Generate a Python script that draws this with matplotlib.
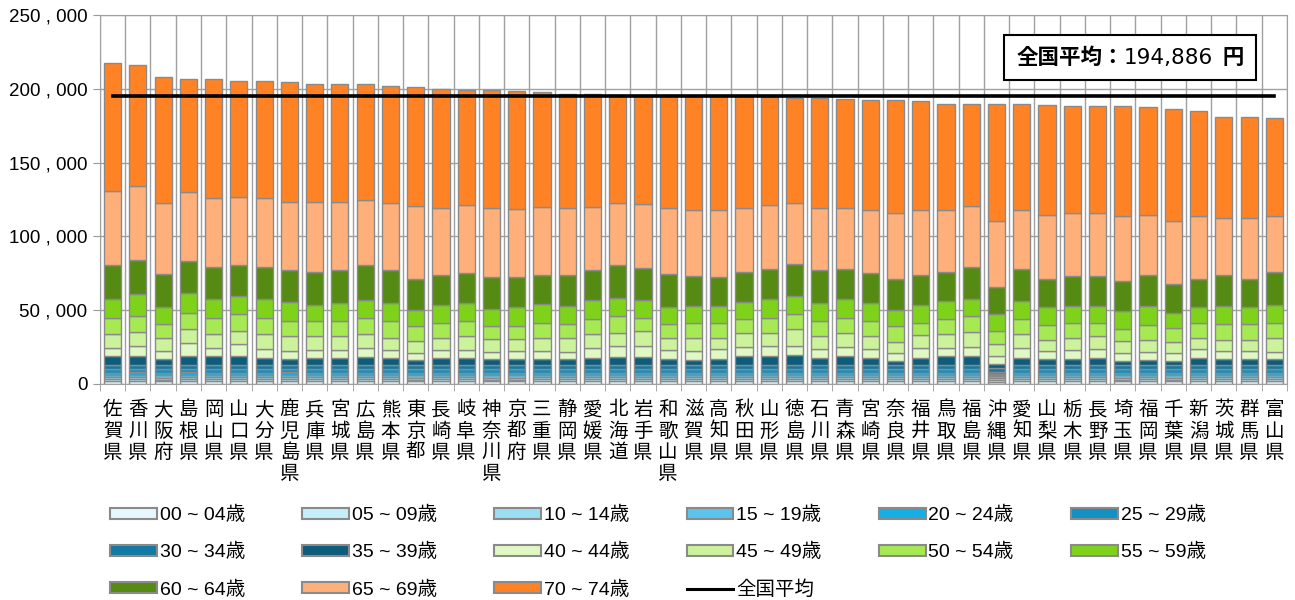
import matplotlib
matplotlib.use("Agg")
import matplotlib.pyplot as plt
from matplotlib.patches import Patch
from matplotlib.lines import Line2D
from matplotlib.offsetbox import TextArea, HPacker, AnchoredOffsetbox
import numpy as np

prefectures = ["佐賀県", "香川県", "大阪府", "島根県", "岡山県", "山口県", "大分県", "鹿児島県",
               "兵庫県", "宮城県", "広島県", "熊本県", "東京都", "長崎県", "岐阜県", "神奈川県",
               "京都府", "三重県", "静岡県", "愛媛県", "北海道", "岩手県", "和歌山県", "滋賀県",
               "高知県", "秋田県", "山形県", "徳島県", "石川県", "青森県", "宮崎県", "奈良県",
               "福井県", "鳥取県", "福島県", "沖縄県", "愛知県", "山梨県", "栃木県", "長野県",
               "埼玉県", "福岡県", "千葉県", "新潟県", "茨城県", "群馬県", "富山県"]

age_labels = ["00 ~ 04歳", "05 ~ 09歳", "10 ~ 14歳", "15 ~ 19歳", "20 ~ 24歳", "25 ~ 29歳",
              "30 ~ 34歳", "35 ~ 39歳", "40 ~ 44歳", "45 ~ 49歳", "50 ~ 54歳", "55 ~ 59歳",
              "60 ~ 64歳", "65 ~ 69歳", "70 ~ 74歳"]

age_00_04 = [1800, 1900, 1700, 1900, 1800, 1800, 1800, 1900, 1800, 1800, 1800, 1800, 1700, 1800, 1800, 1700,
             1700, 1800, 1800, 1800, 1800, 1800, 1800, 1800, 1800, 1800, 1800, 1800, 1800, 1800, 1800, 1800,
             1800, 1800, 1800, 1500, 1800, 1800, 1800, 1800, 1700, 1800, 1700, 1800, 1800, 1800, 1800]
age_05_09 = [1300, 1300, 1300, 1400, 1300, 1300, 1300, 1300, 1300, 1300, 1300, 1300, 1300, 1300, 1300, 1300,
             1300, 1300, 1300, 1300, 1300, 1300, 1300, 1300, 1300, 1300, 1300, 1300, 1300, 1300, 1300, 1300,
             1300, 1300, 1300, 1100, 1300, 1300, 1300, 1300, 1300, 1300, 1300, 1300, 1300, 1300, 1300]
age_10_14 = [1400, 1400, 1400, 1500, 1400, 1400, 1400, 1400, 1400, 1400, 1400, 1400, 1400, 1400, 1400, 1400,
             1400, 1400, 1400, 1400, 1400, 1400, 1400, 1400, 1400, 1400, 1400, 1400, 1400, 1400, 1400, 1400,
             1400, 1400, 1400, 1200, 1400, 1400, 1400, 1400, 1400, 1400, 1400, 1400, 1400, 1400, 1400]
age_15_19 = [1600, 1600, 1600, 1600, 1600, 1600, 1600, 1600, 1600, 1600, 1600, 1600, 1600, 1600, 1600, 1600,
             1600, 1600, 1600, 1600, 1600, 1600, 1600, 1600, 1600, 1600, 1600, 1600, 1600, 1600, 1600, 1600,
             1600, 1600, 1600, 1400, 1600, 1600, 1600, 1600, 1600, 1600, 1600, 1600, 1600, 1600, 1600]
age_20_24 = [1600, 1600, 1600, 1700, 1600, 1600, 1600, 1600, 1600, 1600, 1600, 1600, 1700, 1600, 1600, 1700,
             1600, 1600, 1600, 1600, 1600, 1600, 1600, 1600, 1600, 1600, 1600, 1600, 1600, 1600, 1600, 1600,
             1600, 1600, 1600, 1300, 1600, 1600, 1600, 1600, 1700, 1600, 1700, 1600, 1600, 1600, 1600]
age_25_29 = [2300, 2200, 2300, 2200, 2300, 2300, 2300, 2200, 2300, 2300, 2300, 2300, 2300, 2300, 2300, 2300,
             2300, 2300, 2300, 2300, 2300, 2300, 2300, 2300, 2300, 2300, 2300, 2300, 2300, 2300, 2300, 2300,
             2300, 2300, 2300, 1900, 2300, 2300, 2300, 2300, 2300, 2300, 2300, 2300, 2300, 2300, 2300]
age_30_34 = [3000, 3000, 3100, 2700, 3000, 3000, 3000, 3000, 3000, 3000, 3000, 3000, 3000, 3000, 3000, 3000,
             3100, 3000, 3000, 3000, 3000, 3000, 3000, 3000, 3000, 3000, 3000, 3000, 3000, 3000, 3000, 3000,
             3000, 3000, 3000, 2600, 3000, 3000, 3000, 3000, 3000, 3000, 3000, 3000, 3000, 3000, 3000]
age_35_39 = [6100, 6000, 3600, 6000, 6000, 6000, 4800, 3600, 4300, 4300, 5000, 4300, 3000, 4300, 4300, 3600,
             4000, 4000, 3600, 4800, 5500, 5500, 4000, 3400, 4000, 6000, 6000, 6600, 4500, 6000, 4500, 2500,
             4500, 6000, 6000, 2500, 4800, 3600, 3600, 4800, 2500, 3400, 2500, 4500, 3600, 4000, 3600]
age_40_44 = [5400, 6700, 5700, 8900, 5600, 7800, 5600, 5700, 5700, 5700, 6600, 5700, 5200, 5700, 5700, 5400,
             5300, 5300, 5200, 6800, 7200, 7200, 6000, 5900, 6400, 6200, 6700, 6100, 5900, 6200, 5900, 5700,
             7100, 5100, 6200, 5600, 6300, 5700, 6400, 5600, 5700, 5600, 5700, 5900, 5900, 5500, 5400]
age_45_49 = [9100, 9200, 9000, 9100, 9000, 9000, 10200, 10100, 9400, 9400, 9000, 8300, 7800, 8300, 9400, 8200,
             7900, 9000, 9500, 9000, 9000, 10100, 8300, 8700, 7900, 9500, 9000, 11300, 9200, 9500, 9200, 7400,
             8500, 9500, 9700, 7900, 9500, 7400, 8300, 9000, 7800, 7700, 7400, 7600, 7200, 7200, 9300]
age_50_54 = [11200, 11300, 9200, 11200, 11200, 11500, 11200, 10200, 10200, 10200, 10800, 11300, 10200, 10100, 10200, 9000,
             9400, 10100, 9400, 10300, 11200, 9000, 9400, 10400, 10100, 9000, 10100, 10300, 10000, 10100, 10200, 10600,
             8300, 10100, 11300, 9000, 10100, 10200, 10100, 9000, 8600, 10600, 9400, 10600, 10800, 10800, 10100]
age_55_59 = [12600, 14600, 11500, 13500, 12600, 12200, 12600, 13000, 11200, 12400, 12800, 12400, 11200, 12400, 12400, 11800,
             12600, 12600, 12000, 12900, 12400, 12400, 11500, 11300, 11300, 11900, 12600, 12200, 12600, 12600, 12400, 11200,
             12400, 12400, 11200, 11300, 12400, 12300, 11300, 11300, 11900, 12400, 10400, 10600, 12200, 11700, 12400]
age_60_64 = [23000, 23000, 22300, 21600, 21900, 20900, 21900, 21400, 22100, 22000, 23200, 22000, 21000, 19900, 20500, 21500,
             20300, 19700, 21400, 20200, 22100, 21600, 22100, 20500, 19800, 20300, 20800, 21600, 21800, 20300, 20300, 21000,
             19900, 19800, 21900, 18500, 21600, 19200, 20300, 20500, 20100, 21400, 19600, 19200, 21000, 19200, 22100]
age_65_69 = [50200, 50200, 48400, 47100, 46600, 46600, 46600, 46600, 47700, 46600, 44600, 45500, 48900, 45300, 45800, 46500,
             46200, 46100, 45200, 43200, 42400, 43200, 45000, 44400, 45100, 43400, 43400, 41400, 42000, 41300, 42500, 44400,
             44300, 42100, 41000, 44600, 39900, 43200, 42800, 42600, 43900, 40500, 42100, 42100, 38700, 41000, 37600]
age_70_74 = [86600, 82100, 85200, 76400, 80900, 78600, 79700, 80900, 79800, 79800, 78400, 79500, 80600, 80800, 78000, 80000,
             80100, 78200, 77500, 76400, 73200, 74000, 76200, 77600, 77400, 75500, 73000, 71500, 74600, 74400, 74600, 76600,
             73400, 72000, 69500, 79400, 72000, 74200, 72800, 72600, 74700, 72800, 76100, 71700, 68400, 68200, 66900]

national_average = 194886

series = [age_00_04, age_05_09, age_10_14, age_15_19, age_20_24, age_25_29, age_30_34, age_35_39,
          age_40_44, age_45_49, age_50_54, age_55_59, age_60_64, age_65_69, age_70_74]

colors = ["#E6F7FD", "#C6EDFA", "#9CDDF4", "#5CC4EC", "#16AFE4", "#1590C2", "#127AA4", "#0C5D7B",
          "#E0F8C3", "#CCF29B", "#A7E952", "#7ED31A", "#558B13", "#FFB07A", "#FF8224"]

jp_font = ["Liberation Sans", "Noto Sans CJK JP"]
cjk_font = ["Noto Sans CJK JP", "Liberation Sans"]

fig = plt.figure(figsize=(12.95, 6.0), dpi=100)
ax = fig.add_axes([0.0772, 0.36, 0.9166, 0.615])

x = np.arange(len(prefectures))
bottom = np.zeros(len(prefectures))
handles = []
for vals, col, lab in zip(series, colors, age_labels):
    v = np.array(vals, dtype=float)
    ax.bar(x, v, bottom=bottom, width=0.68, color=col, edgecolor="#8a8a8a", linewidth=1.0, zorder=3)
    bottom += v
    handles.append(Patch(facecolor=col, edgecolor="#8a8a8a", linewidth=1.5, label=lab))

ax.plot([x[0], x[-1]], [national_average, national_average], color="black", lw=2.6, zorder=5)
handles.append(Line2D([0], [0], color="black", lw=2.2, label="全国平均"))

ax.set_xlim(-0.5, len(prefectures) - 0.5)
ax.set_ylim(0, 250000)
ax.set_yticks(np.arange(0, 250001, 50000))
ax.set_yticklabels([f"{int(v):,}".replace(",", " , ") for v in np.arange(0, 250001, 50000)],
                   fontsize=13.5, family=jp_font)
ax.set_xticks(x)
ax.set_xticklabels(["\n".join(p) for p in prefectures], fontsize=14, family=cjk_font,
                   linespacing=1.02, va="top")
ax.set_xticks(np.arange(-0.5, len(prefectures), 1.0), minor=True)
ax.tick_params(axis="x", which="major", length=0, pad=11)
ax.tick_params(axis="x", which="minor", length=5, color="#999999")
ax.tick_params(axis="y", length=5, color="#999999", pad=4)
ax.grid(axis="x", which="minor", color="#a0a0a0", lw=1.0, zorder=0)
ax.grid(axis="y", which="major", color="#a0a0a0", lw=1.0, zorder=0)
for s in ax.spines.values():
    s.set_color("#a0a0a0")

# annotation box
t1 = TextArea("全国平均：", textprops=dict(fontsize=15.5, fontweight="bold", family=cjk_font))
t2 = TextArea("194,886", textprops=dict(fontsize=15.5, family=["DejaVu Sans"]))
t3 = TextArea("  円", textprops=dict(fontsize=15.5, fontweight="bold", family=cjk_font))
pack = HPacker(children=[t1, t2, t3], align="baseline", pad=0, sep=0)
ab = AnchoredOffsetbox(loc="center", child=pack, pad=0.85, frameon=True,
                       bbox_to_anchor=(0.868, 0.885), bbox_transform=ax.transAxes, borderpad=0)
ab.patch.set_edgecolor("black")
ab.patch.set_linewidth(1.5)
ab.patch.set_boxstyle("square", pad=0)
ab.set_zorder(8)
ax.add_artist(ab)

order = []
for j in range(6):
    for r in range(3):
        k = j + 6 * r
        if k < len(handles):
            order.append(handles[k])
leg = fig.legend(handles=order, ncol=6, loc="upper left", bbox_to_anchor=(0.085, 0.157),
                 frameon=False, prop={"family": jp_font, "size": 14},
                 handlelength=2.4, handleheight=0.5, handletextpad=0.15,
                 columnspacing=2.95, labelspacing=0.98, borderaxespad=0, borderpad=0)

fig.savefig("out.png", dpi=100)
